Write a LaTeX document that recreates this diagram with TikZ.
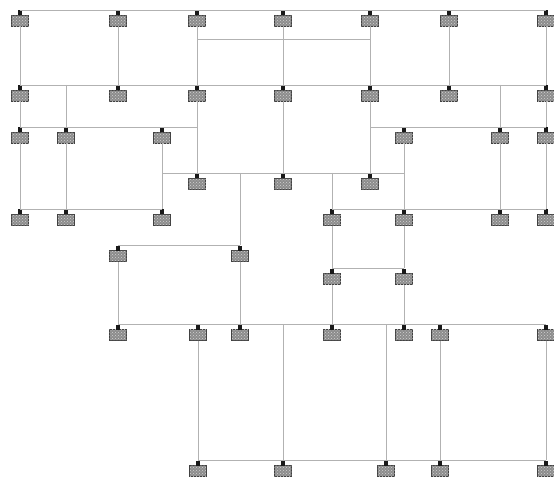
\documentclass[tikz,border=0pt]{standalone}
\usetikzlibrary{patterns}
\tikzset{
  dev/.style={draw=black!75, line width=0.6pt, fill=gray!90,
    postaction={pattern=crosshatch dots, pattern color=gray!35},
    minimum width=17pt, minimum height=11pt, inner sep=0pt, outer sep=0pt},
  stubf/.style={fill=black!90},
  wire/.style={draw=gray!60, line width=0.7pt}
}
\newcommand\mydev[3]{%
  \node[dev] (#1) at (#2,#3) {};
  \coordinate (#1s) at (#2,{#3-11});
  \fill[stubf] ({#2-2},{#3-5.5}) rectangle ({#2+2},{#3-10.5});
}
\begin{document}
\begin{tikzpicture}[x=1pt,y=-1pt]
\useasboundingbox[fill=white] (0,0) rectangle (554,481);
% nodes
\foreach \n/\x in {a/20,b/118,c/197,d/283,e/370,f/449,g/546}{\mydev{r1\n}{\x}{21}}
\foreach \n/\x in {a/20,b/118,c/197,d/283,e/370,f/449,g/546}{\mydev{r2\n}{\x}{96}}
\foreach \n/\x in {a/20,b/66,c/162,d/404,e/500,f/546}{\mydev{r3\n}{\x}{138}}
\foreach \n/\x in {a/197,b/283,c/370}{\mydev{r4\n}{\x}{184}}
\foreach \n/\x in {a/20,b/66,c/162,d/332,e/404,f/500,g/546}{\mydev{r5\n}{\x}{220}}
\foreach \n/\x in {a/118,b/240}{\mydev{r6\n}{\x}{256}}
\foreach \n/\x in {a/332,b/404}{\mydev{r7\n}{\x}{279}}
\foreach \n/\x in {a/118,b/198,c/240,d/332,e/404,f/440,g/546}{\mydev{r8\n}{\x}{335}}
\foreach \n/\x in {a/198,b/283,c/386,d/440,e/546}{\mydev{r9\n}{\x}{471}}
\coordinate (h39) at (0,39);
% buses
\draw[wire] (r1as) -- (r1gs);
\draw[wire] (r1c |- h39) -- (r1e |- h39);
\draw[wire] (r2as) -- (r2gs);
\draw[wire] (r3as) -- (r2c |- r3as);
\draw[wire] (r2e |- r3ds) -- (r3fs);
\draw[wire] (r3c |- r4as) -- (r3d |- r4as);
\draw[wire] (r5as) -- (r5cs);
\draw[wire] (r5ds) -- (r5gs);
\draw[wire] (r6as) -- (r6bs);
\draw[wire] (r7as) -- (r7bs);
\draw[wire] (r8as) -- (r8gs);
\draw[wire] (r9as) -- (r9es);
% verticals
\foreach \n in {a,b,c,d,e,f,g}{\draw[wire] (r1\n.south) -- (r2\n s);}
\draw[wire] (r2a.south) -- (r3as);
\draw[wire] (r3b |- r2as) -- (r3bs);
\draw[wire] (r2c.south) -- (r4as);
\draw[wire] (r2d.south) -- (r4bs);
\draw[wire] (r2e.south) -- (r4cs);
\draw[wire] (r3e |- r2gs) -- (r3es);
\draw[wire] (r2g.south) -- (r3fs);
\draw[wire] (r3a.south) -- (r5as);
\draw[wire] (r3b.south) -- (r5bs);
\draw[wire] (r3c.south) -- (r5cs);
\draw[wire] (r5d |- r4as) -- (r5ds);
\draw[wire] (r3d.south) -- (r5es);
\draw[wire] (r3e.south) -- (r5fs);
\draw[wire] (r3f.south) -- (r5gs);
\draw[wire] (r6b |- r4as) -- (r6bs);
\draw[wire] (r5d.south) -- (r7as);
\draw[wire] (r5e.south) -- (r7bs);
\draw[wire] (r6a.south) -- (r8as);
\draw[wire] (r6b.south) -- (r8cs);
\draw[wire] (r7a.south) -- (r8ds);
\draw[wire] (r7b.south) -- (r8es);
\draw[wire] (r8b.south) -- (r9as);
\draw[wire] (r9b |- r8as) -- (r9bs);
\draw[wire] (r9c |- r8as) -- (r9cs);
\draw[wire] (r8f.south) -- (r9ds);
\draw[wire] (r8g.south) -- (r9es);
\end{tikzpicture}
\end{document}
